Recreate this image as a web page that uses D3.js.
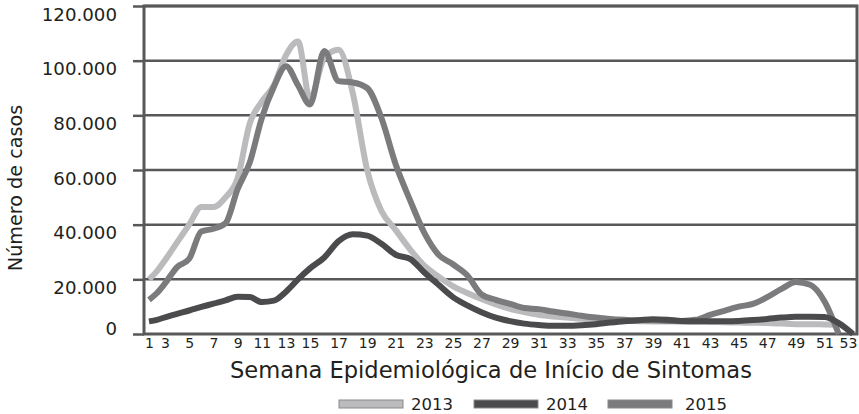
<!DOCTYPE html>
<html>
<head>
<meta charset="utf-8">
<script src="https://cdn.jsdelivr.net/npm/d3@7"></script>
<style>
  html, body { margin: 0; padding: 0; background: #fff; }
  svg { display: block; font-family: "DejaVu Sans", sans-serif; }
</style>
</head>
<body>
<div id="chart"></div>
<script>
"use strict";

// --- DATA ---
const weeks = d3.range(1, 54);
const weekTicks = [1, 3, 5, 7, 9, 11, 13, 15, 17, 19, 21, 23, 25, 27, 29, 31, 33, 35, 37, 39, 41, 43, 45, 47, 49, 51, 53];
const yTicks = [0, 20000, 40000, 60000, 80000, 100000, 120000];
const years = ["2013", "2014", "2015"];

const cases2013 = [20000, 23000, 27000, 33500, 40000, 46500, 46500, 50000, 57000, 77000,
  85000, 91000, 102000, 107000, 86000, 101000, 104000, 88000, 60000, 45000,
  38000, 31000, 25000, 21000, 17500, 15000, 12800, 10800, 9200, 8000,
  7000, 6400, 6000, 5600, 5300, 5000, 4800, 4700, 4600, 4600,
  4500, 4500, 4400, 4300, 4200, 4100, 4000, 3800, 3600, 3600,
  3500, 3400];

const cases2014 = [4600, 5200, 6100, 7400, 8600, 9900, 11100, 12300, 13600, 13500,
  11700, 12200, 15500, 20000, 24000, 28000, 34000, 36500, 36000, 33000,
  29000, 27500, 22500, 18000, 13500, 10500, 8000, 6000, 4700, 3800,
  3300, 3000, 3000, 3200, 3600, 4200, 4700, 5000, 5400, 5200,
  4800, 4700, 4700, 4700, 4800, 5100, 5500, 6000, 6300, 6300,
  6200, 4000, 0];

const cases2015 = [12500, 15000, 18500, 24500, 27500, 37500, 38500, 40500, 53000, 62700,
  79000, 90500, 98000, 91000, 84000, 103500, 92500, 92000, 90000, 79000,
  62000, 49000, 37000, 29000, 25500, 21500, 14500, 12500, 11000, 9500,
  9100, 8200, 7500, 6700, 6000, 5500, 5200, 5000, 5000, 4800,
  4800, 5200, 7000, 8500, 10000, 11000, 13500, 16500, 19000, 18000,
  12000, 0];

const W = 859, H = 414;
const L = { left: 144, right: 857, top: 6, bottom: 334 };
const COLORS = { "2013": "#bbbbbd", "2014": "#4b4b4d", "2015": "#7b7b7d" };
const AXIS = "#58585a", INK = "#231f20";

// --- SCALES ---
// week labels are tighter on the left side of the original axis
const x = d3.scaleLinear().domain([1, 3, 13, 15, 53]).range([149, 165, 286, 310, 853]);
const y = d3.scaleLinear().domain([0, 120000]).range([L.bottom, L.top]);

const svg = d3.select("#chart").append("svg").attr("width", W).attr("height", H);

// --- GRID + Y AXIS ---
const yAxis = svg.append("g")
  .attr("transform", `translate(${L.left},0)`)
  .call(d3.axisLeft(y).tickValues(yTicks).tickSize(11).tickPadding(16)
    .tickFormat(d => d === 0 ? "0" : d3.format(",")(d).replace(/,/g, ".")))
  .attr("font-family", null).attr("font-size", null);
yAxis.select(".domain").remove();
yAxis.selectAll(".tick line").attr("stroke", AXIS).attr("stroke-width", 2.5);
yAxis.selectAll(".tick text")
  .attr("fill", INK).style("font-size", "18.2px")
  .attr("dy", d => d === 0 ? "0.05em" : "0.78em");

svg.append("g").selectAll("line")
  .data(yTicks.filter(d => d > 0))
  .enter().append("line")
  .attr("x1", L.left).attr("x2", L.right)
  .attr("y1", d => y(d)).attr("y2", d => y(d))
  .attr("stroke", AXIS).attr("stroke-width", 2.5);

// frame
svg.append("rect")
  .attr("x", L.left).attr("y", L.top)
  .attr("width", L.right - L.left).attr("height", L.bottom - L.top)
  .attr("fill", "none").attr("stroke", AXIS).attr("stroke-width", 3);

// --- LINES ---
const line = d3.line()
  .defined(d => d.v != null)
  .x(d => x(d.w)).y(d => y(d.v))
  .curve(d3.curveMonotoneX);

const series = [
  { year: "2013", values: cases2013 },
  { year: "2015", values: cases2015 },
  { year: "2014", values: cases2014 }
];

svg.append("g").selectAll("path")
  .data(series)
  .enter().append("path")
  .attr("d", s => line(s.values.map((v, i) => ({ w: weeks[i], v }))))
  .attr("fill", "none")
  .attr("stroke", s => COLORS[s.year])
  .attr("stroke-width", 6)
  .attr("stroke-linejoin", "round");

// --- X AXIS LABELS ---
const xAxis = svg.append("g")
  .attr("transform", `translate(0,${L.bottom})`)
  .call(d3.axisBottom(x).tickValues(weekTicks).tickSize(0).tickPadding(4).tickFormat(d3.format("d")))
  .attr("font-family", null).attr("font-size", null);
xAxis.select(".domain").remove();
xAxis.selectAll(".tick text")
  .attr("fill", INK).style("font-size", "14px")
  .attr("dx", d => d === 53 ? -5 : 0);

// --- TITLES ---
svg.append("text")
  .attr("x", 491).attr("y", 378)
  .attr("text-anchor", "middle").attr("fill", INK)
  .style("font-size", "22.6px")
  .text("Semana Epidemiológica de Início de Sintomas");

svg.append("text")
  .attr("transform", "translate(22,188) rotate(-90)")
  .attr("text-anchor", "middle").attr("fill", INK)
  .style("font-size", "19.2px")
  .text("Número de casos");

// --- LEGEND ---
const legendX = { "2013": 339, "2014": 474, "2015": 608 };
const legend = svg.append("g").selectAll("g")
  .data(years)
  .enter().append("g")
  .attr("transform", d => `translate(${legendX[d]},400)`);

legend.append("rect")
  .attr("width", 64).attr("height", 8)
  .attr("fill", d => COLORS[d])
  .attr("stroke", "#8a8a8c").attr("stroke-width", 1);

legend.append("text")
  .attr("x", d => d === "2015" ? 77 : 72).attr("y", 10)
  .attr("fill", INK).style("font-size", "16.5px")
  .text(d => d);
</script>
</body>
</html>
